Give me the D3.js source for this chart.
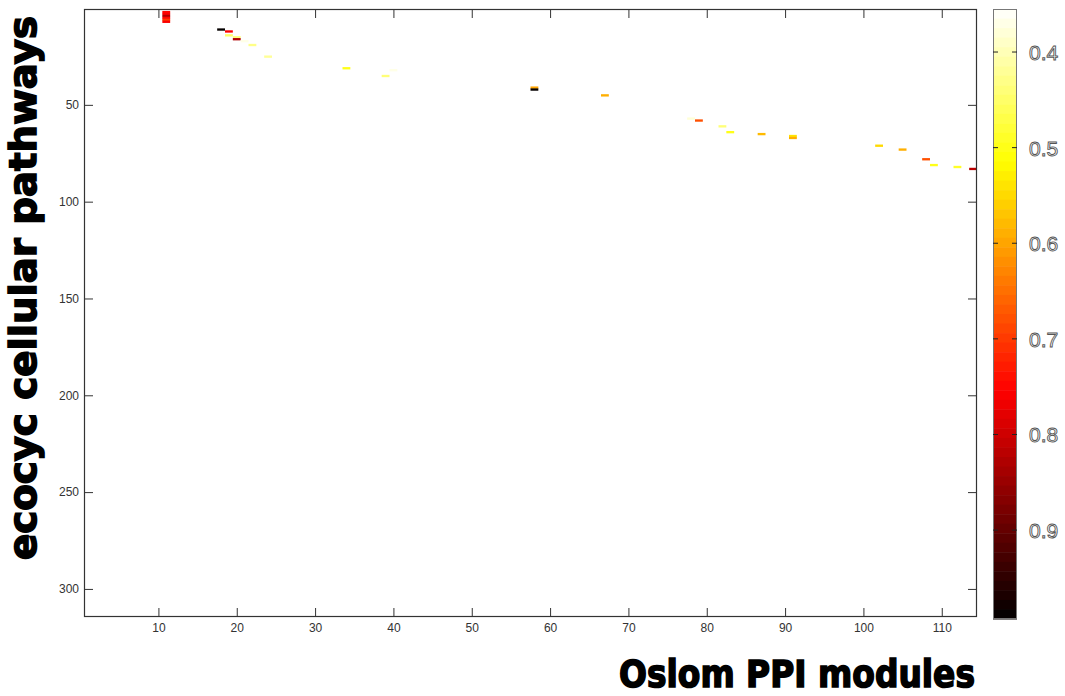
<!DOCTYPE html>
<html>
<head>
<meta charset="utf-8">
<script src="https://cdn.jsdelivr.net/npm/d3@7/dist/d3.min.js"></script>
<style>
  html, body { margin: 0; padding: 0; background: #fff; }
  svg { display: block; }
  .tick-label { font-family: "Liberation Sans", Arial, sans-serif; font-size: 12px; fill: #333; }
  .cb-label { font-family: "Liberation Sans", Arial, sans-serif; font-size: 21px; fill: #fff; stroke: #555; stroke-width: 0.9px; }
  .big-label { font-family: "DejaVu Sans", "Liberation Sans", sans-serif; font-weight: bold; fill: #000; stroke: #000; stroke-width: 1.6px; }
</style>
</head>
<body>
<svg id="chart" width="1065" height="696"></svg>
<script>
// Oslom PPI module (column) vs. EcoCyc pathway (row) overlap scores.
// Only non-empty cells are listed; all other cells are blank.
const moduleIdx  = [11, 11, 11, 11, 11, 11, 18, 19, 19, 20, 20, 21, 22, 24, 34, 40, 39, 58, 58, 67, 78, 79, 82, 83, 87, 91, 91, 102, 105, 108, 109, 112, 114];
const pathwayIdx = [ 2,  3,  4,  5,  6,  7, 11, 12, 14, 15, 16, 17, 19, 25, 31, 32, 35, 41, 42, 45, 57, 58, 61, 64, 65, 66, 67,  71,  73,  78,  81,  82,  83];
const overlapScore = [0.75, 0.76, 0.83, 0.75, 0.70, 0.76, 0.99, 0.76, 0.45, 0.44, 0.83, 0.37, 0.43, 0.42, 0.50, 0.37, 0.44, 0.60, 0.99, 0.59, 0.38, 0.68, 0.44, 0.50, 0.58, 0.54, 0.59, 0.55, 0.59, 0.68, 0.50, 0.49, 0.82];

const nModules = 114;
const nPathways = 314;
const colorLimits = [0.355, 0.993];

const xTicks = [10, 20, 30, 40, 50, 60, 70, 80, 90, 100, 110];
const yTicks = [50, 100, 150, 200, 250, 300];
const colorTicks = [0.4, 0.5, 0.6, 0.7, 0.8, 0.9];

const xLabel = "Oslom PPI modules";
const yLabel = "ecocyc cellular pathways";

// Reversed "hot" colormap, 64 steps: white -> yellow -> red -> black
const nColors = 64;
function hot(s) {
  const r = Math.min(1, s / (3 / 8));
  const g = Math.max(0, Math.min(1, (s - 3 / 8) / (3 / 8)));
  const b = Math.max(0, Math.min(1, (s - 6 / 8) / (2 / 8)));
  return d3.rgb(r * 255, g * 255, b * 255).formatHex();
}
const palette = d3.range(nColors).map(i => hot(1 - (i + 0.5) / nColors));
const color = d3.scaleQuantize().domain(colorLimits).range(palette);

const svg = d3.select("#chart");

// Main axes frame
const plot = { left: 84, right: 977, top: 9, bottom: 617 };
const x = d3.scaleLinear().domain([0.5, nModules + 0.5]).range([plot.left, plot.right]);
const y = d3.scaleLinear().domain([0.5, nPathways + 0.5]).range([plot.top, plot.bottom]);

// Cells (slight overlap so adjacent rows join without seams)
const cells = moduleIdx.map((m, i) => ({ m, p: pathwayIdx[i], v: overlapScore[i] }));
svg.append("g").selectAll("rect").data(cells).join("rect")
  .attr("x", d => x(d.m - 0.5))
  .attr("y", d => y(d.p - 0.5))
  .attr("width", d => x(d.m + 0.5) - x(d.m - 0.5))
  .attr("height", d => y(d.p + 0.5) - y(d.p - 0.5) + 0.4)
  .attr("fill", d => color(d.v));

// Ticks on all four sides, pointing inward
const tickLen = 9;
const axisG = svg.append("g");
axisG.append("g").attr("transform", `translate(0,${plot.bottom})`)
  .call(d3.axisBottom(x).tickValues(xTicks).tickSizeInner(-tickLen).tickSizeOuter(0).tickPadding(6))
  .call(g => g.select(".domain").remove());
axisG.append("g").attr("transform", `translate(0,${plot.top})`)
  .call(d3.axisTop(x).tickValues(xTicks).tickSizeInner(-tickLen).tickSizeOuter(0).tickFormat(""))
  .call(g => g.select(".domain").remove());
axisG.append("g").attr("transform", `translate(${plot.left},0)`)
  .call(d3.axisLeft(y).tickValues(yTicks).tickSizeInner(-tickLen).tickSizeOuter(0).tickPadding(5))
  .call(g => g.select(".domain").remove());
axisG.append("g").attr("transform", `translate(${plot.right},0)`)
  .call(d3.axisRight(y).tickValues(yTicks).tickSizeInner(-tickLen).tickSizeOuter(0).tickFormat(""))
  .call(g => g.select(".domain").remove());
axisG.selectAll(".tick line").attr("stroke", "#333");
axisG.selectAll(".tick text").attr("class", "tick-label").attr("fill", null);

// Box
svg.append("rect")
  .attr("x", plot.left + 0.5).attr("y", plot.top + 0.5)
  .attr("width", plot.right - plot.left - 1).attr("height", plot.bottom - plot.top - 1)
  .attr("fill", "none").attr("stroke", "#333").attr("stroke-width", 1.2);

// Colorbar
const cb = { left: 993, right: 1017, top: 9, bottom: 619 };
const cy = d3.scaleLinear().domain(colorLimits).range([cb.top, cb.bottom]);
const step = (colorLimits[1] - colorLimits[0]) / nColors;
const cbG = svg.append("g");
cbG.selectAll("rect").data(palette).join("rect")
  .attr("x", cb.left)
  .attr("y", (c, i) => cy(colorLimits[0] + i * step))
  .attr("width", cb.right - cb.left)
  .attr("height", (c, i) => cy(colorLimits[0] + (i + 1) * step) - cy(colorLimits[0] + i * step) + 0.5)
  .attr("fill", c => c);
cbG.append("rect")
  .attr("x", cb.left + 0.5).attr("y", cb.top + 0.5)
  .attr("width", cb.right - cb.left - 1).attr("height", cb.bottom - cb.top - 1)
  .attr("fill", "none").attr("stroke", "#777").attr("stroke-width", 1);
cbG.selectAll("line.l").data(colorTicks).join("line").attr("class", "l")
  .attr("x1", cb.left).attr("x2", cb.left + 5)
  .attr("y1", d => cy(d)).attr("y2", d => cy(d)).attr("stroke", "#222");
cbG.selectAll("line.r").data(colorTicks).join("line").attr("class", "r")
  .attr("x1", cb.right - 5).attr("x2", cb.right)
  .attr("y1", d => cy(d)).attr("y2", d => cy(d)).attr("stroke", "#222");
cbG.selectAll("text").data(colorTicks).join("text")
  .attr("class", "cb-label")
  .attr("x", 1029).attr("y", d => cy(d) + 8)
  .text(d => d3.format(".1f")(d));

// Axis titles
svg.append("text").attr("class", "big-label")
  .attr("x", 797).attr("y", 687)
  .attr("text-anchor", "middle")
  .attr("font-size", 37)
  .attr("textLength", 356).attr("lengthAdjust", "spacingAndGlyphs")
  .text(xLabel);
svg.append("text").attr("class", "big-label")
  .attr("transform", "translate(36,288) rotate(-90)")
  .attr("text-anchor", "middle")
  .attr("font-size", 38)
  .attr("textLength", 544).attr("lengthAdjust", "spacingAndGlyphs")
  .text(yLabel);
</script>
</body>
</html>
